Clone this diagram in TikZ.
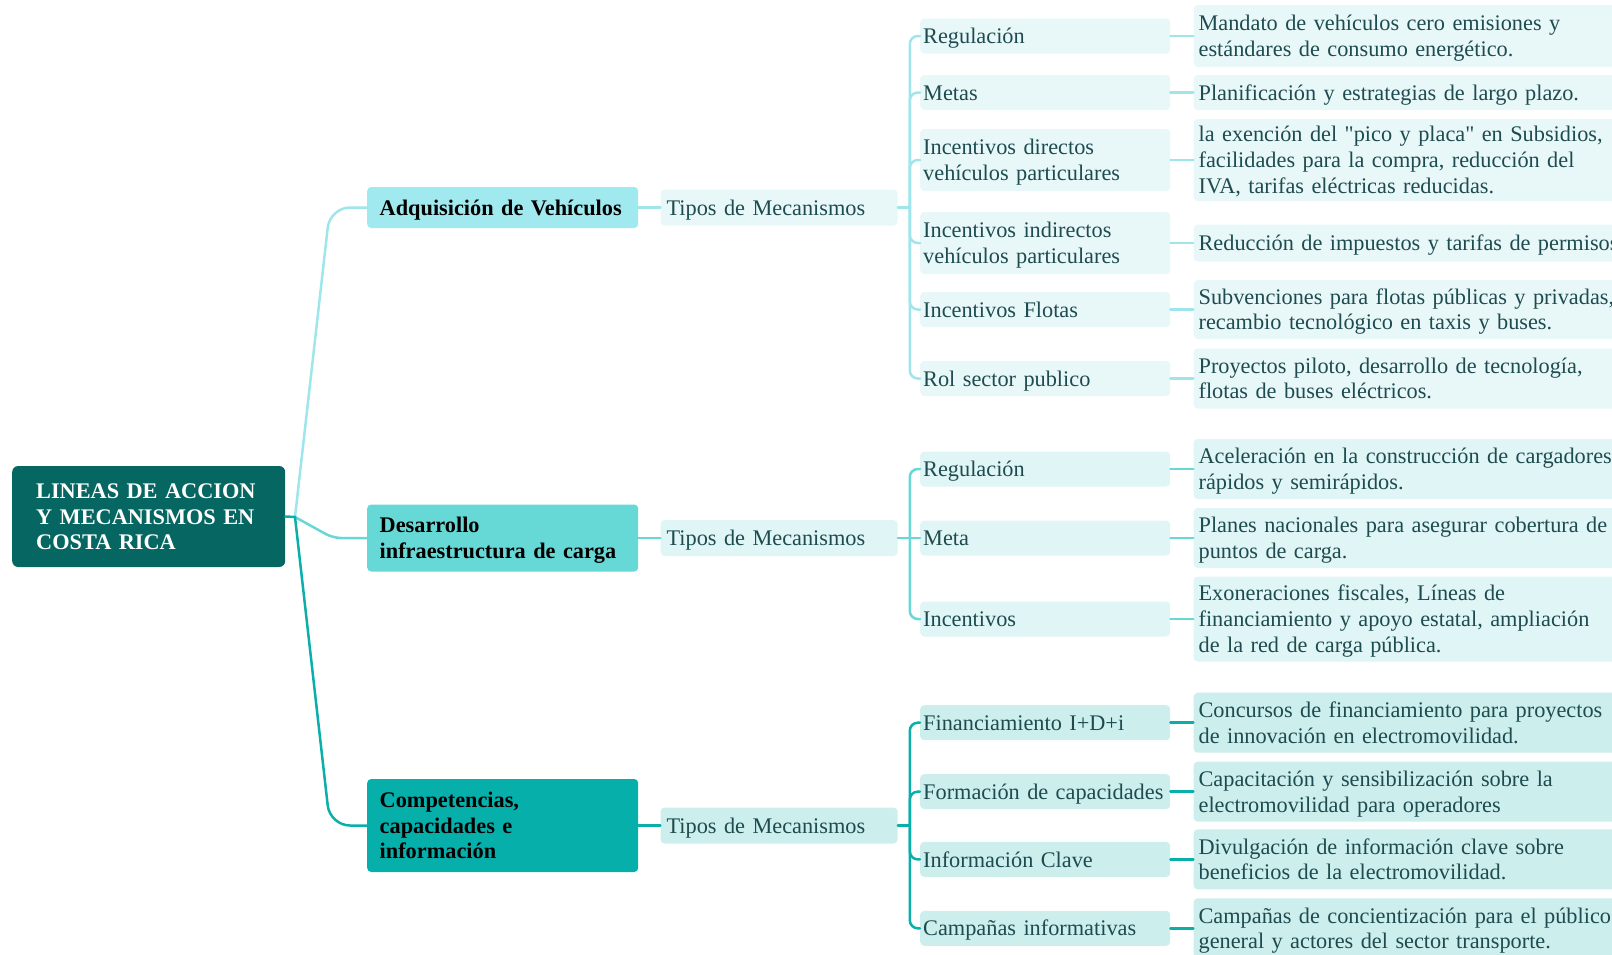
\documentclass[tikz,border=0pt]{standalone}
\usepackage{fontspec}
\setmainfont{Liberation Serif}
\usetikzlibrary{positioning}

\definecolor{rootTeal}{HTML}{066661}
\definecolor{adqFill}{HTML}{A0E9EE}
\definecolor{infraFill}{HTML}{66D9D6}
\definecolor{compFill}{HTML}{07AFAA}
\definecolor{adqLight}{HTML}{E8F8F9}
\definecolor{infraLight}{HTML}{E0F5F5}
\definecolor{compLight}{HTML}{CCEEED}
\definecolor{adqLine}{HTML}{9EE6EC}
\definecolor{infraLine}{HTML}{66D9D6}
\definecolor{compLine}{HTML}{0AAFA9}
\definecolor{leafText}{HTML}{1E4B4F}

\newcommand{\mapfont}{\fontsize{22.3}{25.7}\selectfont}
\newcommand{\mapstrut}{\rule[-5.25pt]{0pt}{25.7pt}}

\tikzset{
  mapbox/.style={rectangle, rounded corners=4pt, inner ysep=0pt, anchor=west, align=left, font=\mapfont,
    execute at begin node=\mapstrut, execute at end node=\mapstrut},
  rootnode/.style={mapbox, fill=rootTeal, text=white, font=\mapfont\bfseries, text width=225pt, inner xsep=24pt, minimum height=101pt, rounded corners=6pt},
  linenode/.style={mapbox, font=\mapfont\bfseries, text=black, text width=246pt, inner xsep=12.5pt},
  tiposnode/.style={mapbox, text=leafText, text width=225pt, inner xsep=6pt, minimum height=36pt},
  mechnode/.style={mapbox, text=leafText, text width=244pt, inner xsep=3pt, minimum height=35pt},
  descnode/.style={mapbox, text=leafText, text width=450pt, inner xsep=5pt, minimum height=37pt},
  link/.style={line width=2.5pt, line cap=round},
}

\begin{document}
\begin{tikzpicture}[x=1pt, y=-1pt]
\useasboundingbox (0,0) rectangle (1612,954);
% Root
\node[rootnode] (root) at (12,516.5) {LINEAS DE ACCION\\Y MECANISMOS EN\\COSTA RICA};
% Lines of action
\node[linenode, fill=adqFill, minimum height=41pt] (adq) at (367,207.5) {Adquisición de Vehículos};
\node[linenode, fill=infraFill, minimum height=67pt] (infra) at (367,538) {Desarrollo\\infraestructura de carga};
\node[linenode, fill=compFill, minimum height=93pt] (comp) at (367,825.5) {Competencias,\\capacidades e\\información};
% Tipos de Mecanismos
\node[tiposnode, fill=adqLight, right=22pt of adq] (tiposA) {Tipos de Mecanismos};
\node[tiposnode, fill=infraLight, right=22pt of infra] (tiposB) {Tipos de Mecanismos};
\node[tiposnode, fill=compLight, right=22pt of comp] (tiposC) {Tipos de Mecanismos};

% Group A: vehicle acquisition
\begin{scope}[every node/.append style={fill=adqLight}]
  \node[mechnode] (a1) at (920,36) {Regulación};
  \node[mechnode] (a2) at (920,92.5) {Metas};
  \node[mechnode, minimum height=62pt] (a3) at (920,160) {Incentivos directos\\vehículos particulares};
  \node[mechnode, minimum height=62pt] (a4) at (920,243) {Incentivos indirectos\\vehículos particulares};
  \node[mechnode] (a5) at (920,309.5) {Incentivos Flotas};
  \node[mechnode] (a6) at (920,378.5) {Rol sector publico};
  \node[descnode, minimum height=62pt, right=23pt of a1] (a1d) {Mandato de vehículos cero emisiones y\\estándares de consumo energético.};
  \node[descnode, minimum height=35pt, right=23pt of a2] (a2d) {Planificación y estrategias de largo plazo.};
  \node[descnode, minimum height=82pt, right=23pt of a3] (a3d) {la exención del \textquotedbl pico y placa\textquotedbl{} en Subsidios,\\facilidades para la compra, reducción del\\IVA, tarifas eléctricas reducidas.};
  \node[descnode, right=23pt of a4] (a4d) {Reducción de impuestos y tarifas de permisos};
  \node[descnode, minimum height=59pt, right=23pt of a5] (a5d) {Subvenciones para flotas públicas y privadas,\\recambio tecnológico en taxis y buses.};
  \node[descnode, minimum height=60pt, right=23pt of a6] (a6d) {Proyectos piloto, desarrollo de tecnología,\\flotas de buses eléctricos.};
\end{scope}

% Group B: charging infrastructure
\begin{scope}[every node/.append style={fill=infraLight}]
  \node[mechnode] (b1) at (920,469) {Regulación};
  \node[mechnode] (b2) at (920,538) {Meta};
  \node[mechnode] (b3) at (920,619) {Incentivos};
  \node[descnode, minimum height=60pt, right=23pt of b1] (b1d) {Aceleración en la construcción de cargadores\\rápidos y semirápidos.};
  \node[descnode, minimum height=60pt, right=23pt of b2] (b2d) {Planes nacionales para asegurar cobertura de\\puntos de carga.};
  \node[descnode, minimum height=85pt, right=23pt of b3] (b3d) {Exoneraciones fiscales, Líneas de\\financiamiento y apoyo estatal, ampliación\\de la red de carga pública.};
\end{scope}

% Group C: competences
\begin{scope}[every node/.append style={fill=compLight}]
  \node[mechnode] (c1) at (920,722.7) {Financiamiento I+D+i};
  \node[mechnode] (c2) at (920,791.6) {Formación de capacidades};
  \node[mechnode] (c3) at (920,859.4) {Información Clave};
  \node[mechnode] (c4) at (920,928.3) {Campañas informativas};
  \node[descnode, minimum height=60pt, right=23pt of c1] (c1d) {Concursos de financiamiento para proyectos\\de innovación en electromovilidad.};
  \node[descnode, minimum height=60pt, right=23pt of c2] (c2d) {Capacitación y sensibilización sobre la\\electromovilidad para operadores};
  \node[descnode, minimum height=60pt, right=23pt of c3] (c3d) {Divulgación de información clave sobre\\beneficios de la electromovilidad.};
  \node[descnode, minimum height=60pt, right=23pt of c4] (c4d) {Campañas de concientización para el público\\general y actores del sector transporte.};
\end{scope}

% Links from the root
\coordinate (fork) at (295,517);
\draw[link, draw=adqLine, rounded corners=20pt] (fork) -- (330,207.5) -- (adq.west);
\draw[link, draw=infraLine, rounded corners=8pt] (fork) -- (333,538) -- (infra.west);
\draw[link, draw=compLine, rounded corners=20pt] (fork) -- (330,825.5) -- (comp.west);
\draw[link, draw=compLine] (root.east) -- (fork);

% Links of group A
\begin{scope}[link, draw=adqLine]
  \draw (adq.east) -- (tiposA.west);
  \draw (tiposA.east) -- ++(12pt,0) coordinate (busA);
  \draw[rounded corners=8pt] (busA) |- (a1.west);
  \draw[rounded corners=8pt] (busA) |- (a2.west);
  \draw[rounded corners=8pt] (busA) |- (a3.west);
  \draw[rounded corners=8pt] (busA) |- (a4.west);
  \draw[rounded corners=8pt] (busA) |- (a5.west);
  \draw[rounded corners=8pt] (busA) |- (a6.west);
  \draw (a1.east) -- (a1d.west);
  \draw (a2.east) -- (a2d.west);
  \draw (a3.east) -- (a3d.west);
  \draw (a4.east) -- (a4d.west);
  \draw (a5.east) -- (a5d.west);
  \draw (a6.east) -- (a6d.west);
\end{scope}

% Links of group B
\begin{scope}[link, draw=infraLine]
  \draw (infra.east) -- (tiposB.west);
  \draw (tiposB.east) -- ++(12pt,0) coordinate (busB);
  \draw[rounded corners=8pt] (busB) |- (b1.west);
  \draw (busB) -- (b2.west);
  \draw[rounded corners=8pt] (busB) |- (b3.west);
  \draw (b1.east) -- (b1d.west);
  \draw (b2.east) -- (b2d.west);
  \draw (b3.east) -- (b3d.west);
\end{scope}

% Links of group C
\begin{scope}[link, draw=compLine]
  \draw (comp.east) -- (tiposC.west);
  \draw (tiposC.east) -- ++(12pt,0) coordinate (busC);
  \draw[rounded corners=8pt] (busC) |- (c1.west);
  \draw[rounded corners=8pt] (busC) |- (c2.west);
  \draw[rounded corners=8pt] (busC) |- (c3.west);
  \draw[rounded corners=8pt] (busC) |- (c4.west);
  \draw (c1.east) -- (c1d.west);
  \draw (c2.east) -- (c2d.west);
  \draw (c3.east) -- (c3d.west);
  \draw (c4.east) -- (c4d.west);
\end{scope}
\end{tikzpicture}
\end{document}
